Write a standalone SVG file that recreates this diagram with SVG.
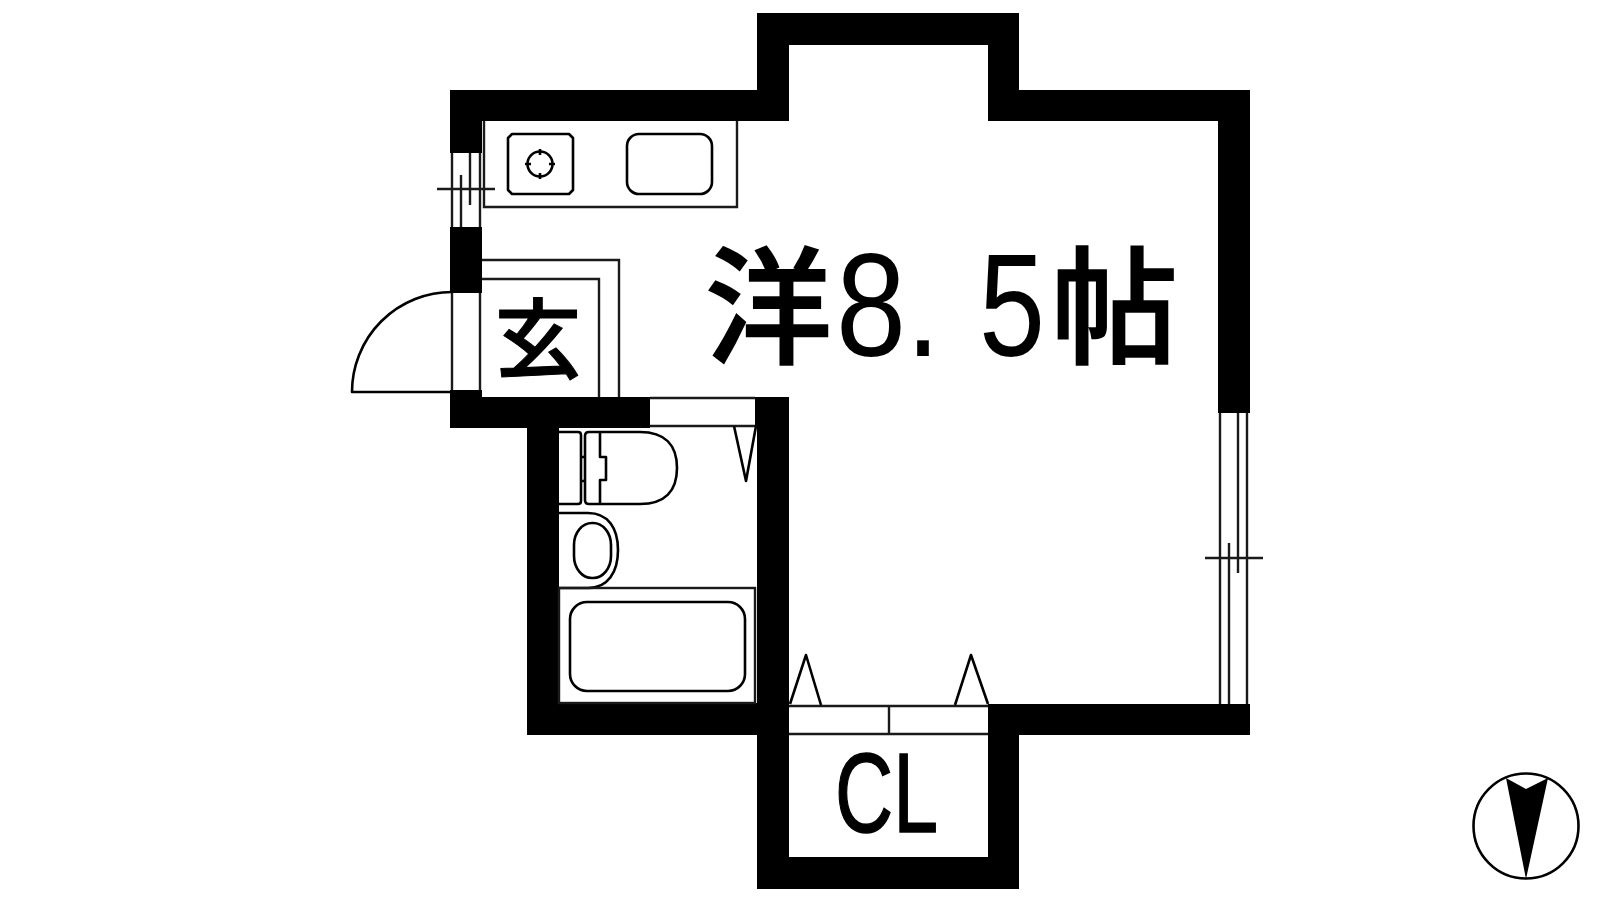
<svg xmlns="http://www.w3.org/2000/svg" width="1600" height="900" viewBox="0 0 1600 900">
<style>
.w{fill:#000}
.l{fill:none;stroke:#1a1a1a;stroke-width:2.4}
.k{fill:none;stroke:#000;stroke-width:2.6;stroke-linejoin:round}
.t{fill:#000;font-family:"Noto Sans CJK JP","Noto Sans CJK SC",sans-serif;font-weight:500}
.n{fill:#000;font-family:"Liberation Sans",sans-serif;font-weight:400}
</style>
<rect width="1600" height="900" fill="#fff"/>
<g id="walls" class="w">
<rect x="450" y="90" width="339" height="31"/>
<rect x="757" y="13" width="32" height="108"/>
<rect x="757" y="13" width="262" height="32"/>
<rect x="988" y="13" width="31" height="108"/>
<rect x="988" y="90" width="262" height="31"/>
<rect x="1218" y="90" width="32" height="323"/>
<rect x="988" y="704" width="262" height="31"/>
<rect x="988" y="704" width="31" height="185"/>
<rect x="757" y="857" width="262" height="32"/>
<rect x="757" y="397" width="32" height="492"/>
<rect x="755" y="397" width="3" height="29"/>
<rect x="527" y="703" width="262" height="32"/>
<rect x="527" y="397" width="32" height="338"/>
<rect x="450" y="397" width="200" height="31"/>
<rect x="450" y="90" width="32" height="63"/>
<rect x="450" y="227" width="32" height="66"/>
<rect x="450" y="390" width="32" height="38"/>
</g>
<g id="window-left" class="l">
<path d="M452 153V227M461 175V227M470 153V205M480 153V227M437 189H495"/>
</g>
<g id="window-right" class="l">
<path d="M1220 413V704M1229 543V704M1238 413V573M1247 413V704M1205 558H1263"/>
</g>
<g id="entrance-door">
<path class="k" d="M452 292A100 100 0 0 0 352 392H452"/>
<path class="l" d="M452 293V390M480 293V390"/>
</g>
<g id="entrance" class="l">
<path d="M482 260H619V397M482 279H599V397"/>
<text class="t" x="538" y="372" font-size="87" text-anchor="middle" style="stroke:#000;stroke-width:1">玄</text>
</g>
<g id="kitchen">
<path class="l" d="M484 121V207H737V121"/>
<path class="k" d="M512 134H569L573 138V190L569 194H512L508 190V138Z"/>
<circle class="k" cx="540" cy="164" r="12.5"/>
<path class="k" d="M540 149V155M540 173V179M525 164H531M549 164H555"/>
<rect class="k" x="627" y="134" width="85" height="60" rx="12"/>
</g>
<g id="bathroom-door">
<path class="l" d="M650 398H755M650 426H755"/>
<path class="k" d="M734 426L746 481L756 426"/>
</g>
<g id="toilet" class="k">
<path d="M559 432H578Q581 432 581 435V501Q581 504 578 504H559"/>
<path d="M589 432H640C665 432 677 445 677 468C677 491 665 504 640 504H589Q585 504 585 500V436Q585 432 589 432Z"/>
<path d="M581 457H585M581 481H585M600 432V457H606V480H600V504"/>
</g>
<g id="washbasin" class="k">
<path d="M559 513H588C608 513 618 528 618 550C618 572 608 588 588 588H559"/>
<rect x="574" y="523" width="37" height="55" rx="18" ry="22"/>
</g>
<g id="bath">
<rect class="l" x="559" y="588" width="196" height="115"/>
<rect class="k" x="570" y="602" width="175" height="89" rx="17"/>
</g>
<g id="closet-doors">
<path class="l" d="M789 706H988M789 734H988M889 706V734"/>
<path class="k" d="M790 704L806 655L821 705M955 705L971 655L988 704"/>
</g>
<g id="room-label">
<text font-size="127" class="t" stroke="#000" stroke-width="1.6"><tspan x="705" y="354">洋</tspan><tspan class="n" x="836" y="356" font-size="147" textLength="70" lengthAdjust="spacingAndGlyphs" stroke="none">8</tspan><tspan class="n" x="906" y="356" font-size="147" textLength="34" lengthAdjust="spacingAndGlyphs" stroke="none">.</tspan><tspan class="n" x="979" y="356" font-size="147" textLength="66" lengthAdjust="spacingAndGlyphs" stroke="none">5</tspan><tspan x="1051" y="354">帖</tspan></text>
</g>
<g id="closet-label">
<text class="n" x="835" y="832" font-size="114" textLength="103" lengthAdjust="spacingAndGlyphs" stroke="#000" stroke-width="1.5">CL</text>
</g>
<g id="compass">
<circle cx="1526" cy="826" r="52.5" fill="none" stroke="#000" stroke-width="2.6"/>
<path class="w" d="M1506 778L1526 789L1548 778L1526 879Z"/>
</g>
</svg>
